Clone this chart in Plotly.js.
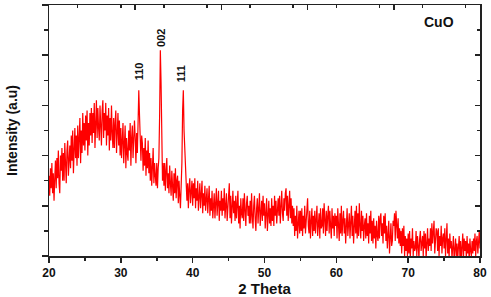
<!DOCTYPE html>
<html>
<head>
<meta charset="utf-8">
<script src="https://cdn.plot.ly/plotly-3.0.1.min.js"></script>
<style>
  html, body { margin: 0; padding: 0; background: #fff; }
  #xrd { width: 491px; height: 297px; }
</style>
</head>
<body>
<div id="xrd"></div>
<script>
// CuO XRD pattern, 2 theta from 20 to 80 in 0.1 degree steps
var thetaStart = 20;
var thetaStep = 0.1;

// intensity, one row per degree
var intensity = [
  32, 24, 35, 27, 37, 25, 33, 22, 31, 38,   // 20
  27, 39, 31, 42, 29, 25, 40, 34, 43, 30,   // 21
  41, 30, 45, 34, 29, 42, 46, 32, 39, 44,   // 22
  35, 48, 38, 50, 33, 45, 51, 39, 48, 36,   // 23
  52, 39, 49, 55, 37, 50, 41, 57, 44, 53,   // 24
  42, 56, 46, 58, 40, 53, 44, 57, 48, 59,   // 25
  45, 57, 49, 61, 43, 56, 62, 47, 59, 51,   // 26
  46, 60, 53, 44, 58, 62, 47, 57, 50, 61,   // 27
  44, 56, 48, 59, 42, 55, 46, 60, 49, 43,   // 28
  55, 43, 53, 58, 41, 51, 57, 44, 54, 40,   // 29
  51, 39, 48, 53, 37, 46, 52, 35, 47, 41,   // 30
  38, 50, 42, 53, 36, 47, 52, 39, 49, 54,   // 31
  47, 37, 49, 41, 53, 66, 56, 42, 38, 48,   // 32  (110)
  45, 34, 43, 36, 47, 32, 42, 35, 46, 33,   // 33
  41, 30, 39, 28, 38, 43, 29, 37, 32, 28,   // 34
  37, 27, 35, 39, 56, 82, 69, 41, 30, 37,   // 35  (002)
  28, 37, 26, 34, 39, 27, 33, 25, 36, 29,   // 36
  24, 34, 27, 22, 33, 25, 35, 23, 30, 32,   // 37
  21, 30, 24, 19, 28, 37, 58, 66, 50, 43,   // 38  (111)
  35, 27, 22, 29, 19, 27, 31, 21, 26, 30,   // 39
  20, 29, 23, 31, 19, 27, 22, 30, 18, 26,   // 40
  29, 19, 26, 30, 17, 25, 20, 28, 18, 24,   // 41
  27, 17, 24, 28, 16, 23, 18, 26, 15, 22,   // 42
  25, 15, 23, 27, 16, 21, 26, 14, 22, 18,   // 43
  26, 16, 23, 18, 27, 15, 22, 25, 14, 21,   // 44
  23, 29, 15, 24, 13, 21, 26, 17, 22, 14,   // 45
  24, 15, 21, 26, 13, 20, 11, 23, 17, 15,   // 46
  23, 14, 25, 17, 12, 21, 24, 16, 20, 13,   // 47
  22, 13, 25, 16, 11, 20, 24, 15, 10, 19,   // 48
  23, 13, 20, 25, 12, 19, 22, 14, 24, 16,   // 49
  21, 11, 19, 23, 10, 18, 22, 13, 19, 12,   // 50
  23, 14, 20, 12, 24, 16, 22, 13, 19, 23,   // 51
  16, 24, 13, 21, 26, 17, 14, 23, 18, 25,   // 52
  27, 16, 24, 14, 21, 26, 15, 23, 13, 20,   // 53
  12, 19,  8, 16, 10, 20,  7, 15, 18,  9,   // 54
  18, 10, 19,  8, 16, 11, 20,  9, 15, 17,   // 55
  23, 12,  9, 18,  7, 14, 19,  8, 16, 10,   // 56
  18,  9, 15, 20,  8, 14, 17,  7, 19, 11,   // 57
  12, 19,  9, 21, 14,  8, 18, 10, 16, 20,   // 58
   9, 18, 12,  7, 19, 11, 16,  8, 17, 12,   // 59
  16,  7, 19, 11,  6, 17,  9, 20,  8, 14,   // 60
  18,  9, 15,  5, 14, 19,  8, 13, 17,  7,   // 61
  14, 20,  8, 16,  5, 13, 18,  9, 20,  7,   // 62
  17,  8, 21, 12,  7, 18, 10, 16,  6, 12,   // 63
  15,  7, 17,  8, 13,  5, 16,  9, 18,  6,   // 64
  14,  5, 15,  7, 12,  3, 14,  8,  6, 16,   // 65
   7, 15, 17,  8, 13,  5, 16,  9, 17,  6,   // 66
  12,  3, 10, 14,  1,  9, 13,  4,  6, 14,   // 67
  12, 17,  6, 18, 11,  7, 15,  5, 11,  4,   // 68
  10,  1, 11,  4, 12,  0,  8,  2,  7,  0,   // 69
   9,  1, 10, -1,  7,  3, 11,  0,  6,  2,   // 70
   3, 10,  0,  8,  4, -1,  7, 10,  2,  6,   // 71
   8,  0, 10,  3,  9, -1,  6, 11,  2,  7,   // 72
   4, 11,  2, 13,  5,  9, 14,  1,  8, 11,   // 73
  10,  2, 11,  0,  8,  4, 12,  1,  7,  9,   // 74
   3, 11,  0,  8, 13,  1,  7, -1,  9,  3,   // 75
   6, -1,  5,  8, -2,  3,  7,  0,  5, -1,   // 76
   2,  8,  0,  6, -2,  5,  9, -1,  7,  2,   // 77
   6, -1,  8,  1,  5, -2,  7,  2,  0,  6,   // 78
   1,  7,  2,  9,  0,  6,  8,  1,  5, 10,   // 79
   3                                        // 80
];

// peak labels (hkl) and where they sit
var peakLabels = ['110', '002', '111'];
var peakLabelX = [32.5, 35.5, 38.4];
var peakLabelY = [73.5, 87, 72.5];

var theta = [];
for (var i = 0; i < intensity.length; i++) {
  theta.push(+(thetaStart + i * thetaStep).toFixed(1));
}

var boldFont = {family: 'Arial, "Liberation Sans", sans-serif', color: '#111', weight: 'bold'};

var trace = {
  x: theta,
  y: intensity,
  type: 'scatter',
  mode: 'lines',
  line: {color: '#ff0000', width: 1.2},
  hoverinfo: 'x+y'
};

// empty trace so the top/right tick axes get drawn
var frameTrace = {
  x: [], y: [],
  xaxis: 'x2', yaxis: 'y2',
  type: 'scatter', mode: 'lines',
  showlegend: false, hoverinfo: 'skip'
};

var annotations = [];
for (var k = 0; k < peakLabels.length; k++) {
  annotations.push({
    x: peakLabelX[k], y: peakLabelY[k],
    xref: 'x', yref: 'y',
    text: peakLabels[k],
    textangle: -90,
    showarrow: false,
    xanchor: 'center', yanchor: 'middle',
    font: Object.assign({}, boldFont, {size: 11})
  });
}
annotations.push({
  x: 0.905, y: 0.932, xref: 'paper', yref: 'paper',
  text: 'CuO', showarrow: false,
  xanchor: 'center', yanchor: 'middle',
  font: Object.assign({}, boldFont, {size: 14})
});

var layout = {
  width: 491,
  height: 297,
  margin: {l: 49, r: 11, t: 5, b: 41},
  paper_bgcolor: '#fff',
  plot_bgcolor: '#fff',
  showlegend: false,
  xaxis: {
    range: [20, 80],
    tick0: 20, dtick: 10,
    ticks: 'outside', ticklen: 5, tickwidth: 1.5, tickcolor: '#222',
    minor: {dtick: 5, ticks: 'outside', ticklen: 3, tickwidth: 1.5, tickcolor: '#222'},
    showline: true, linecolor: '#222', linewidth: 1.5, mirror: true,
    showgrid: false, zeroline: false,
    tickfont: Object.assign({}, boldFont, {size: 12}),
    title: {text: '2 Theta', font: Object.assign({}, boldFont, {size: 15}), standoff: 4}
  },
  xaxis2: {
    overlaying: 'x', side: 'top', anchor: 'y',
    range: [20, 80],
    tick0: 20, dtick: 12,
    ticks: 'inside', ticklen: 5, tickwidth: 1.5, tickcolor: '#222',
    minor: {dtick: 6, ticks: 'inside', ticklen: 3, tickwidth: 1.5, tickcolor: '#222'},
    showticklabels: false, showgrid: false, zeroline: false
  },
  yaxis: {
    range: [0, 100],
    tick0: 0, dtick: 20,
    ticks: 'outside', ticklen: 6, tickwidth: 1.5, tickcolor: '#222',
    minor: {dtick: 10, ticks: 'outside', ticklen: 4, tickwidth: 1.5, tickcolor: '#222'},
    showticklabels: false,
    showline: true, linecolor: '#222', linewidth: 1.5, mirror: true,
    showgrid: false, zeroline: false,
    title: {text: 'Intensity (a.u)', font: Object.assign({}, boldFont, {size: 14}), standoff: 20}
  },
  yaxis2: {
    overlaying: 'y', side: 'right', anchor: 'x',
    range: [0, 100],
    tick0: 0, dtick: 20,
    ticks: 'inside', ticklen: 5, tickwidth: 1.5, tickcolor: '#222',
    minor: {dtick: 10, ticks: 'inside', ticklen: 3, tickwidth: 1.5, tickcolor: '#222'},
    showticklabels: false, showgrid: false, zeroline: false
  },
  annotations: annotations
};

Plotly.newPlot('xrd', [trace, frameTrace], layout, {staticPlot: true});
</script>
</body>
</html>
